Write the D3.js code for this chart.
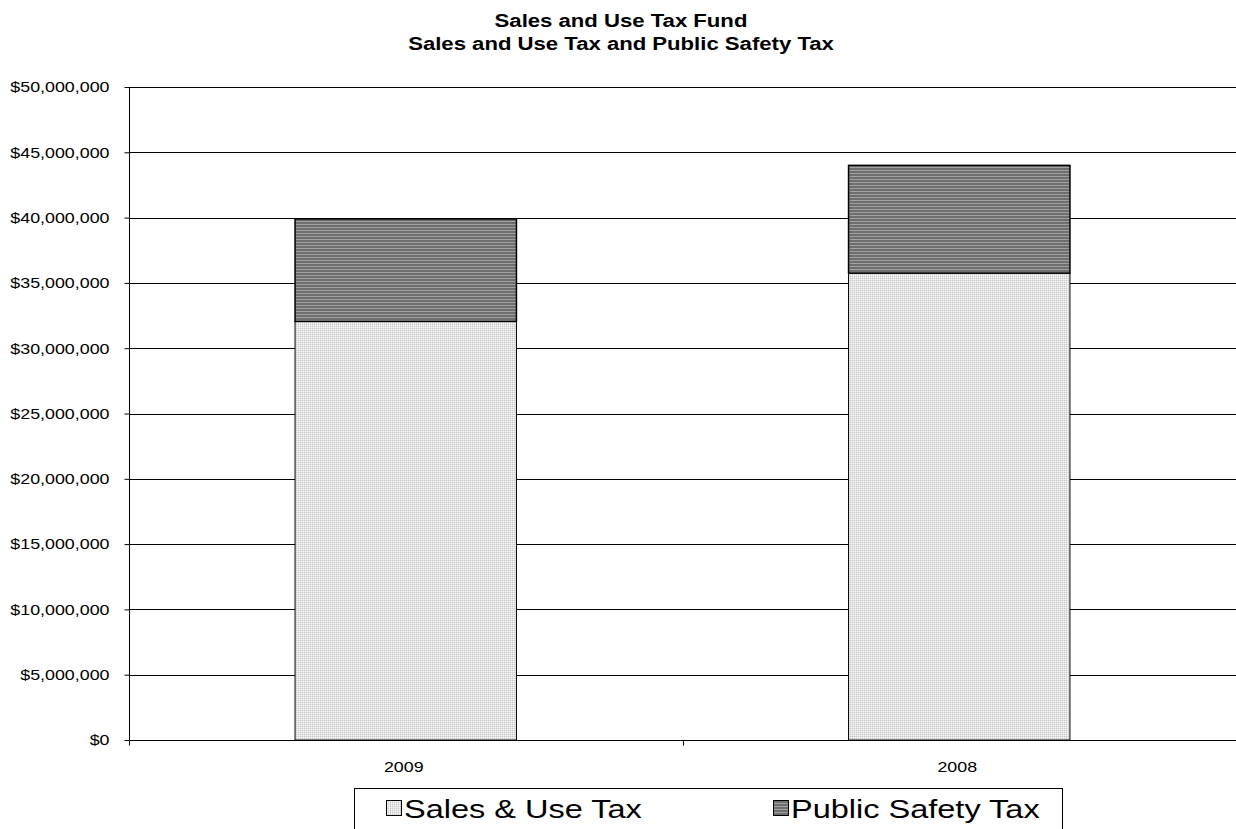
<!DOCTYPE html>
<html><head><meta charset="utf-8">
<script src="https://cdn.jsdelivr.net/npm/d3@7"></script>
<style>body{margin:0;background:#fff}svg{display:block}text{font-family:"Liberation Sans",Arial,sans-serif}</style>
</head><body>
<svg id="c" width="1236" height="829"></svg>
<script>
const categories = ["2009", "2008"];
const salesUseTax = [32050000, 35750000];
const publicSafetyTax = [7850000, 8250000];
const seriesNames = ["Sales & Use Tax", "Public Safety Tax"];
const yTicks = [0, 5000000, 10000000, 15000000, 20000000, 25000000, 30000000, 35000000, 40000000, 45000000, 50000000];
const titleLines = ["Sales and Use Tax Fund", "Sales and Use Tax and Public Safety Tax"];

const svg = d3.select("#c");
const defs = svg.append("defs");
const p1 = defs.append("pattern").attr("id","pSales").attr("patternUnits","userSpaceOnUse").attr("width",2).attr("height",2);
p1.append("rect").attr("width",2).attr("height",2).attr("fill","#e6e6e6");
p1.append("rect").attr("width",1).attr("height",1).attr("fill","#c8c8c8");
p1.append("rect").attr("x",1).attr("y",1).attr("width",1).attr("height",1).attr("fill","#f4f4f4");
const p2 = defs.append("pattern").attr("id","pSafety").attr("patternUnits","userSpaceOnUse").attr("width",3).attr("height",3);
p2.append("rect").attr("width",3).attr("height",3).attr("fill","#6e6e6e");
p2.append("rect").attr("y",2).attr("width",3).attr("height",1).attr("fill","#a0a0a0");

const L = 129, R = 1236, T = 87, B = 740;
const SX = 1.19;
const x = d3.scaleBand().domain(categories).range([L, R]).paddingInner(0).paddingOuter(0);
const y = d3.scaleLinear().domain([0, 50000000]).range([B, T]);

// title
svg.selectAll(".title").data(titleLines).join("text")
  .attr("transform", (d,i) => `translate(621,${27 + i*23}) scale(1.23,1)`)
  .attr("text-anchor","middle").attr("font-size","18px").attr("font-weight","bold").text(d => d);

// gridlines
svg.append("g").selectAll("line").data(yTicks.slice(1)).join("line")
  .attr("x1", L).attr("x2", R).attr("y1", d => Math.round(y(d))+0.5).attr("y2", d => Math.round(y(d))+0.5)
  .attr("stroke","#000").attr("stroke-width",1);

// y axis
const yAxis = d3.axisLeft(y).tickValues(yTicks).tickSize(5).tickPadding(14)
  .tickFormat(d => "$" + d3.format(",")(d));
const gy = svg.append("g").attr("transform", `translate(${L+0.5},0)`).call(yAxis);
gy.selectAll("text").attr("font-size","15px").attr("fill","#000")
  .attr("x", null).attr("transform", `translate(-20,0) scale(${SX},1)`);
gy.selectAll("line,path").attr("stroke","#000");
gy.select(".domain").attr("d", `M0,${T}V${B}`);

// bars
const stackData = categories.map((c,i) => ({cat:c, a: salesUseTax[i], b: publicSafetyTax[i]}));
const bw = x.bandwidth()*0.4;
const g = svg.append("g");
stackData.forEach(d => {
  const cx = x(d.cat) + x.bandwidth()/2;
  g.append("rect").attr("x", cx - bw/2).attr("width", bw)
    .attr("y", y(d.a)).attr("height", y(0) - y(d.a))
    .attr("fill","url(#pSales)").attr("stroke","#000").attr("stroke-width",1);
  g.append("rect").attr("x", cx - bw/2).attr("width", bw)
    .attr("y", y(d.a + d.b)).attr("height", y(d.a) - y(d.a + d.b))
    .attr("fill","url(#pSafety)").attr("stroke","#000").attr("stroke-width",1.5);
});

// x axis
const xb = svg.append("g").attr("transform", `translate(0,${B+0.5})`);
xb.append("line").attr("x1",L).attr("x2",R).attr("stroke","#000");
const bounds = [L, ...categories.map(c => x(c) + x.bandwidth())];
xb.selectAll(".tk").data(bounds).join("line").attr("x1", d => Math.round(d)+0.5).attr("x2", d => Math.round(d)+0.5)
  .attr("y1",0).attr("y2",5).attr("stroke","#000");
xb.selectAll(".lb").data(categories).join("text")
  .attr("transform", d => `translate(${x(d) + x.bandwidth()/2 - 2},31) scale(${SX},1)`).attr("text-anchor","middle")
  .attr("font-size","15px").text(d => d);

// legend
const lg = svg.append("g");
lg.append("rect").attr("x",354.5).attr("y",788.5).attr("width",708).attr("height",50).attr("fill","#fff").attr("stroke","#000");
const items = [{name: seriesNames[0], fill:"url(#pSales)", sx:386, tx:404},{name: seriesNames[1], fill:"url(#pSafety)", sx:773, tx:791}];
items.forEach(it => {
  lg.append("rect").attr("x",it.sx+0.5).attr("y",800.5).attr("width",15).attr("height",15).attr("fill",it.fill).attr("stroke","#000");
  lg.append("text").attr("transform", `translate(${it.tx},818) scale(1.25,1)`).attr("font-size","26px").text(it.name);
});
</script>
</body></html>
